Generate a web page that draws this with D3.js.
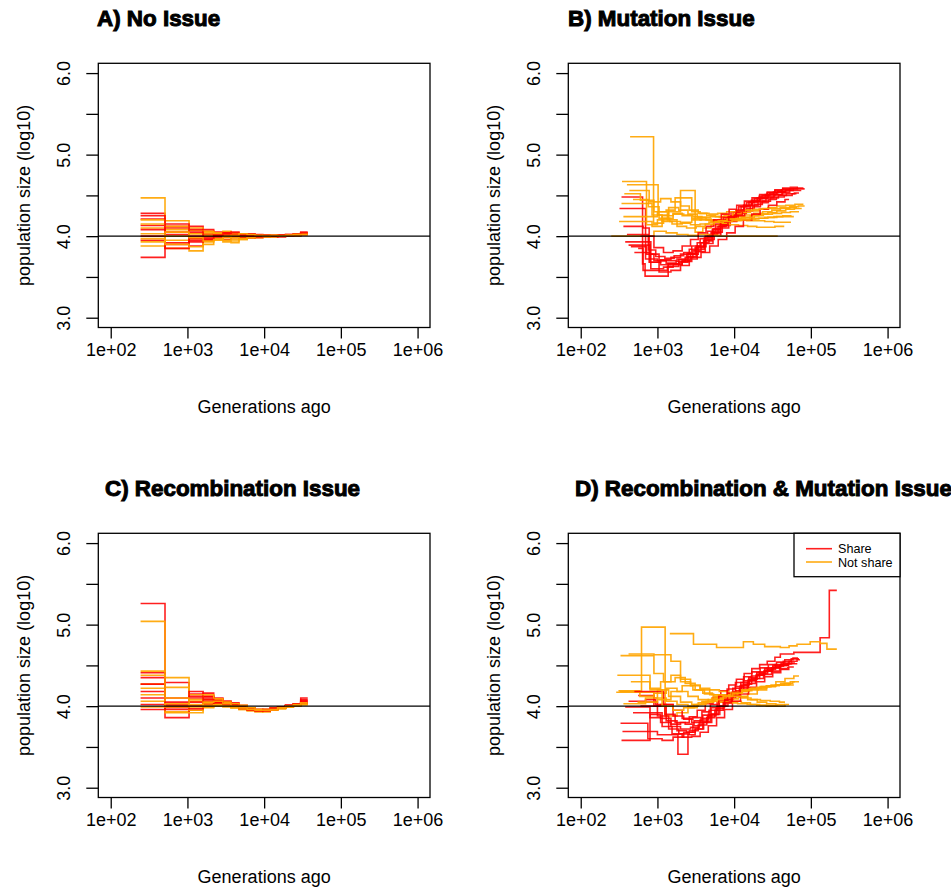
<!DOCTYPE html>
<html>
<head>
<meta charset="utf-8">
<script src="https://cdn.jsdelivr.net/npm/d3@7"></script>
<style>
  html, body { margin: 0; padding: 0; background: #fff; }
  svg { display: block; font-family: "Liberation Sans", Arial, Helvetica, sans-serif; }
</style>
</head>
<body>
<svg id="chart" width="951" height="890"></svg>
<script>
// ---- chart data -------------------------------------------------------
const panelTitles = ["A) No Issue", "B) Mutation Issue", "C) Recombination Issue", "D) Recombination & Mutation Issue"];
const xTicks = [1e2, 1e3, 1e4, 1e5, 1e6];
const xTickLabels = ["1e+02", "1e+03", "1e+04", "1e+05", "1e+06"];
const yTicks = [3, 3.5, 4, 4.5, 5, 5.5, 6];
const yTickLabels = ["3.0", "", "4.0", "", "5.0", "", "6.0"];
const xTitle = "Generations ago";
const yTitle = "population size (log10)";
const legendLabels = ["Share", "Not share"];
const refLevel = 4;

// time breakpoints (generations) shared by the replicates of panels A and C
const gridAC = [245, 510, 1050, 1600, 2200, 2900, 3700, 4700, 6000, 7600, 9600, 12000, 15000, 19000, 24000, 30000, 37000];

// A) log10 population size per interval of gridAC
const noIssueShare = [
  [4.28, 4.10, 4.12, 4.06, 4.04, 4.02, 4.03, 4.01, 4.00, 3.99, 4.00, 4.01, 4.00, 4.01, 4.02, 4.04],
  [4.21, 3.92, 3.88, 3.95, 3.97, 3.96, 3.98, 3.99, 4.00, 4.01, 4.00, 4.00, 4.01, 4.01, 4.02, 4.03],
  [4.13, 4.05, 4.00, 4.08, 4.05, 4.03, 4.02, 4.00, 3.99, 3.98, 3.99, 4.00, 4.01, 4.02, 4.03, 4.05],
  [4.00, 3.85, 3.95, 4.00, 4.03, 4.05, 4.03, 4.02, 4.01, 4.01, 4.00, 3.99, 4.00, 4.01, 4.01, 4.02],
  [3.95, 4.12, 4.08, 4.02, 3.98, 3.99, 4.01, 4.02, 4.03, 4.02, 4.01, 4.00, 4.00, 4.00, 4.01, 4.03],
  [3.74, 3.90, 3.97, 3.99, 4.02, 4.04, 4.05, 4.03, 4.02, 4.00, 3.99, 4.00, 4.01, 4.02, 4.02, 4.04],
  [4.25, 4.02, 3.93, 3.96, 4.00, 4.01, 4.00, 3.98, 3.98, 3.99, 4.00, 4.01, 4.01, 4.00, 4.01, 4.02],
  [4.08, 4.15, 4.05, 3.97, 4.01, 4.03, 4.02, 4.01, 4.00, 4.00, 4.01, 4.00, 3.99, 4.00, 4.02, 4.04]
];
const noIssueNotShare = [
  [4.47, 4.19, 4.07, 4.03, 4.01, 4.02, 4.00, 3.99, 4.00, 4.01, 4.00, 4.00, 4.01, 4.00, 4.01, 4.02],
  [4.03, 3.85, 3.82, 3.90, 3.95, 3.93, 3.92, 3.96, 3.98, 3.99, 4.00, 4.00, 4.00, 4.01, 4.01, 4.02],
  [3.88, 4.00, 4.10, 4.05, 4.02, 3.98, 3.96, 3.97, 3.99, 4.00, 4.01, 4.01, 4.00, 4.01, 4.02, 4.03],
  [4.20, 4.08, 3.97, 3.99, 4.04, 4.06, 4.04, 4.02, 4.01, 4.00, 3.99, 3.99, 4.00, 4.01, 4.01, 4.03],
  [3.97, 3.95, 4.03, 4.01, 3.97, 3.95, 3.94, 3.96, 3.98, 3.99, 4.00, 4.00, 4.01, 4.01, 4.02, 4.02],
  [4.10, 3.90, 3.87, 3.93, 4.00, 4.02, 4.01, 4.00, 3.99, 3.98, 3.99, 4.00, 4.00, 4.01, 4.01, 4.04],
  [4.15, 4.12, 4.03, 4.06, 4.03, 4.00, 3.98, 3.97, 3.98, 4.00, 4.01, 4.00, 4.00, 4.00, 4.01, 4.03],
  [3.93, 4.05, 3.98, 3.94, 3.96, 3.99, 4.01, 4.03, 4.02, 4.01, 4.00, 4.01, 4.00, 4.01, 4.02, 4.02]
];

// C) log10 population size per interval of gridAC
const recombShare = [
  [5.26, 3.98, 4.10, 4.12, 4.08, 4.05, 4.02, 3.99, 3.97, 3.95, 3.96, 3.97, 3.99, 4.01, 4.03, 4.10],
  [4.41, 4.29, 4.15, 4.16, 4.10, 4.06, 4.03, 4.00, 3.97, 3.96, 3.95, 3.97, 3.98, 4.00, 4.02, 4.06],
  [4.35, 3.86, 3.95, 4.00, 4.04, 4.06, 4.04, 4.01, 3.98, 3.96, 3.95, 3.96, 3.98, 3.99, 4.01, 4.04],
  [4.18, 4.02, 4.18, 4.12, 4.09, 4.05, 4.01, 3.98, 3.96, 3.94, 3.95, 3.96, 3.98, 4.00, 4.02, 4.05],
  [4.10, 3.96, 4.05, 4.10, 4.07, 4.03, 4.00, 3.99, 3.97, 3.96, 3.96, 3.97, 3.99, 4.00, 4.01, 4.03],
  [4.02, 4.00, 4.00, 4.02, 4.05, 4.04, 4.02, 4.00, 3.97, 3.95, 3.94, 3.96, 3.98, 4.00, 4.02, 4.08],
  [3.96, 4.05, 3.97, 4.06, 4.04, 4.02, 3.99, 3.97, 3.96, 3.95, 3.96, 3.98, 3.99, 4.01, 4.02, 4.04],
  [4.27, 4.10, 4.12, 4.08, 4.06, 4.03, 4.01, 3.98, 3.95, 3.94, 3.95, 3.97, 3.99, 4.01, 4.03, 4.07]
];
const recombNotShare = [
  [5.04, 3.93, 4.00, 4.03, 4.02, 4.01, 3.98, 3.96, 3.94, 3.93, 3.94, 3.96, 3.98, 4.00, 4.01, 4.03],
  [4.43, 4.35, 4.14, 4.08, 4.05, 4.02, 3.99, 3.97, 3.96, 3.95, 3.96, 3.97, 3.98, 4.00, 4.01, 4.02],
  [4.27, 4.23, 4.06, 4.04, 4.03, 4.00, 3.98, 3.96, 3.95, 3.94, 3.95, 3.97, 3.99, 4.00, 4.02, 4.03],
  [4.22, 3.92, 3.92, 3.98, 4.01, 4.03, 4.02, 3.99, 3.97, 3.95, 3.94, 3.95, 3.97, 3.99, 4.01, 4.02],
  [4.06, 4.00, 4.08, 4.14, 4.09, 4.05, 4.02, 3.99, 3.96, 3.94, 3.93, 3.95, 3.97, 3.99, 4.00, 4.02],
  [4.14, 3.99, 3.95, 3.99, 4.02, 4.04, 4.03, 4.01, 3.98, 3.96, 3.95, 3.96, 3.98, 4.00, 4.01, 4.03],
  [3.99, 4.03, 4.02, 4.01, 4.00, 3.99, 3.98, 3.97, 3.96, 3.96, 3.96, 3.97, 3.98, 3.99, 4.01, 4.02],
  [4.38, 4.10, 3.99, 4.05, 4.06, 4.03, 4.00, 3.98, 3.96, 3.95, 3.95, 3.96, 3.98, 4.00, 4.02, 4.04]
];

// B) [generations, log10 size] change points of each replicate
const mutationShare = [
  [[340,4.48],[640,3.66],[690,3.51],[1380,3.66],[1900,3.71],[2500,3.79],[3200,3.88],[4100,3.98],[5200,4.08],[6600,4.17],[8400,4.25],[10700,4.32],[13600,4.38],[17300,4.43],[22000,4.47],[28000,4.51],[36000,4.54],[46000,4.56],[59000,4.58],[83000,4.58]],
  [[320,4.34],[600,4.34],[700,3.72],[1000,3.70],[1300,3.67],[1750,3.69],[2300,3.74],[2900,3.82],[3700,3.92],[4700,4.02],[6000,4.12],[7600,4.21],[9700,4.29],[12300,4.36],[15600,4.42],[20000,4.47],[25500,4.51],[32500,4.54],[41500,4.57],[53000,4.58],[67000,4.59],[80000,4.59]],
  [[380,3.93],[760,3.93],[820,3.60],[1200,3.62],[1600,3.65],[2100,3.70],[2700,3.78],[3400,3.87],[4300,3.96],[5500,4.05],[7000,4.13],[8900,4.21],[11300,4.28],[14400,4.34],[18300,4.39],[23300,4.43],[29700,4.47],[37800,4.50],[48000,4.52],[61000,4.53],[70000,4.53]],
  [[420,3.89],[800,3.78],[1050,3.56],[1500,3.58],[2000,3.64],[2600,3.72],[3300,3.81],[4200,3.91],[5300,4.01],[6700,4.10],[8500,4.18],[10800,4.25],[13700,4.31],[17400,4.36],[22000,4.41],[28000,4.45],[35500,4.48],[45000,4.50],[57000,4.52],[65000,4.52]],
  [[450,3.87],[720,3.78],[900,3.70],[1300,3.70],[1800,3.72],[2400,3.78],[3100,3.86],[4000,3.95],[5000,4.04],[6300,4.12],[8000,4.19],[10100,4.26],[12800,4.32],[16200,4.38],[20500,4.43],[26000,4.47],[33000,4.51],[42000,4.54],[53000,4.56],[75000,4.56]],
  [[400,4.02],[760,3.83],[950,3.75],[1250,3.73],[1650,3.76],[2200,3.80],[2800,3.88],[3600,3.97],[4500,4.06],[5700,4.15],[7200,4.23],[9100,4.30],[11500,4.36],[14500,4.41],[18300,4.46],[23100,4.50],[29200,4.53],[37000,4.55],[47000,4.57],[56000,4.57]],
  [[500,3.80],[800,3.68],[1100,3.65],[1500,3.66],[2100,3.69],[2800,3.74],[3700,3.80],[4800,3.88],[6200,3.96],[8000,4.04],[10300,4.12],[13200,4.20],[17000,4.27],[21800,4.33],[28000,4.38],[36000,4.42],[46000,4.45],[52000,4.45]],
  [[560,3.85],[650,3.58],[950,3.58],[1350,3.63],[1900,3.68],[2500,3.75],[3200,3.84],[4100,3.94],[5200,4.04],[6600,4.14],[8300,4.23],[10500,4.31],[13300,4.38],[16800,4.44],[21200,4.49],[26800,4.53],[34000,4.56],[43000,4.58],[60000,4.58]],
  [[600,4.00],[900,3.86],[1200,3.80],[1600,3.82],[2100,3.88],[2700,3.96],[3400,4.04],[4300,4.12],[5400,4.20],[6800,4.27],[8600,4.33],[10800,4.38],[13600,4.43],[17100,4.47],[21500,4.51],[27000,4.54],[34000,4.57],[43000,4.59],[54000,4.60],[68000,4.60]],
  [[360,4.12],[650,4.10],[780,3.68],[1100,3.71],[1500,3.74],[2000,3.78],[2600,3.84],[3300,3.92],[4200,4.00],[5300,4.09],[6700,4.17],[8500,4.24],[10700,4.31],[13500,4.37],[17000,4.42],[21500,4.46],[27000,4.49],[34000,4.51],[43000,4.53],[48000,4.53]]
];
const mutationNotShare = [
  [[440,5.22],[890,4.16],[1200,4.22],[1600,4.28],[2100,4.25],[2800,4.22],[3600,4.20],[4700,4.19],[6100,4.20],[8000,4.22],[10500,4.24],[13700,4.26],[18000,4.28],[23500,4.30],[31000,4.32],[40000,4.34],[53000,4.36],[69000,4.37],[83000,4.37]],
  [[345,4.67],[720,4.14],[1000,4.20],[1400,4.35],[1900,4.32],[2500,4.27],[3300,4.23],[4300,4.20],[5600,4.18],[7300,4.19],[9500,4.21],[12400,4.23],[16200,4.25],[21000,4.27],[27500,4.29],[36000,4.31],[47000,4.33],[61000,4.34],[76000,4.34]],
  [[400,4.63],[1020,4.26],[1400,4.30],[2000,4.56],[3100,4.05],[3900,4.10],[5000,4.14],[6500,4.17],[8500,4.19],[11000,4.20],[14500,4.21],[19000,4.22],[25000,4.23],[33000,4.24],[43000,4.25],[56000,4.25]],
  [[430,4.56],[780,4.42],[1100,4.46],[1500,4.42],[2000,4.37],[2600,4.32],[3400,4.28],[4400,4.25],[5700,4.24],[7400,4.25],[9600,4.27],[12500,4.29],[16300,4.31],[21000,4.33],[27500,4.35],[36000,4.37],[47000,4.38],[62000,4.39],[80000,4.39]],
  [[340,4.40],[620,4.40],[850,4.26],[1150,4.18],[1550,4.15],[2100,4.17],[2800,4.20],[3700,4.23],[4900,4.24],[6400,4.23],[8400,4.21],[11000,4.20],[14500,4.19],[19000,4.19],[25000,4.18],[33000,4.17],[44000,4.17],[55000,4.17]],
  [[316,4.18],[640,4.18],[850,4.12],[1150,4.25],[1600,4.27],[2200,4.26],[2900,4.24],[3800,4.21],[5000,4.18],[6600,4.16],[8700,4.14],[11400,4.13],[15000,4.12],[19700,4.11],[26000,4.11],[34000,4.12],[45000,4.12]],
  [[250,4.00],[560,4.00],[900,4.06],[1300,4.04],[1800,4.02],[2500,4.01],[3400,4.02],[4600,4.01],[6200,4.00],[8400,4.00],[11300,4.00],[15200,4.00],[20500,4.00],[27500,4.00],[37000,4.00]],
  [[370,4.52],[600,4.44],[900,4.30],[1300,4.32],[1700,4.47],[2200,4.47],[2800,4.30],[3600,4.28],[4700,4.27],[6100,4.28],[8000,4.30],[10500,4.31],[13800,4.32],[18000,4.33],[23500,4.34],[31000,4.34],[40000,4.35],[52000,4.35],[66000,4.35]],
  [[480,4.45],[760,4.36],[1050,4.22],[1450,4.18],[2000,4.16],[2700,4.14],[3600,4.15],[4700,4.17],[6200,4.19],[8100,4.21],[10600,4.22],[14000,4.23],[18300,4.25],[24000,4.27],[31500,4.28],[41500,4.29],[54000,4.30],[70000,4.30]],
  [[360,4.24],[700,4.24],[1000,4.30],[1350,4.20],[1800,4.12],[2400,4.10],[3200,4.12],[4200,4.15],[5500,4.17],[7200,4.18],[9400,4.19],[12300,4.20],[16000,4.21],[21000,4.22],[27500,4.23],[36000,4.24],[47000,4.24],[60000,4.24]]
];

// D) [generations, log10 size] change points of each replicate
const bothShare = [
  [[380,3.99],[650,3.99],[800,3.86],[1100,3.80],[1500,3.78],[2000,3.80],[2600,3.87],[3300,3.95],[4200,4.03],[5300,4.11],[6700,4.19],[8500,4.26],[10700,4.33],[13500,4.40],[17000,4.46],[21500,4.51],[27000,4.55],[34000,4.60],[40000,4.64],[60000,4.66],[85000,4.66],[132000,4.84],[174000,5.42],[218000,5.42]],
  [[330,3.79],[640,3.79],[750,3.60],[1150,3.58],[1600,3.62],[2200,3.68],[2900,3.76],[3700,3.85],[4700,3.95],[6000,4.05],[7600,4.14],[9600,4.22],[12200,4.29],[15500,4.35],[19700,4.41],[25000,4.46],[32000,4.50],[41000,4.53],[52000,4.55],[66000,4.57],[72000,4.57]],
  [[350,3.69],[620,3.69],[1000,3.65],[1850,3.41],[2500,3.65],[3100,3.72],[3900,3.81],[4900,3.90],[6200,4.00],[7800,4.09],[9800,4.18],[12400,4.26],[15700,4.33],[19900,4.39],[25200,4.44],[32000,4.48],[40500,4.51],[51000,4.53],[62000,4.53]],
  [[340,3.58],[640,3.58],[800,3.90],[1100,3.85],[1500,3.75],[2000,3.72],[2700,3.74],[3500,3.80],[4500,3.88],[5800,3.97],[7400,4.06],[9400,4.15],[12000,4.23],[15300,4.31],[19500,4.38],[24800,4.43],[31500,4.47],[40000,4.50],[51000,4.52],[65000,4.53]],
  [[420,4.06],[700,4.08],[950,4.02],[1300,3.82],[1800,3.70],[2400,3.68],[3100,3.72],[4000,3.80],[5100,3.90],[6500,4.00],[8300,4.10],[10500,4.19],[13300,4.27],[16900,4.34],[21500,4.40],[27300,4.45],[34600,4.49],[44000,4.52],[56000,4.54]],
  [[480,3.92],[850,3.92],[1150,3.75],[1550,3.66],[2100,3.62],[2800,3.63],[3600,3.68],[4600,3.76],[5900,3.86],[7500,3.96],[9500,4.06],[12100,4.15],[15400,4.23],[19600,4.30],[25000,4.36],[31800,4.41],[40500,4.45],[51500,4.48],[60000,4.48]],
  [[560,4.13],[900,4.00],[1250,3.90],[1700,3.80],[2300,3.78],[3000,3.82],[3900,3.89],[5000,3.98],[6400,4.07],[8200,4.16],[10400,4.24],[13200,4.31],[16800,4.37],[21300,4.42],[27100,4.47],[34400,4.51],[43700,4.55],[55500,4.58],[70000,4.58]],
  [[700,4.05],[1000,3.88],[1400,3.72],[1900,3.66],[2600,3.70],[3400,3.77],[4400,3.86],[5600,3.95],[7200,4.04],[9200,4.13],[11700,4.21],[14900,4.28],[19000,4.34],[24200,4.39],[30800,4.43],[39200,4.46],[50000,4.48]],
  [[500,4.18],[900,4.18],[1200,4.02],[1600,3.88],[2200,3.84],[2900,3.86],[3800,3.93],[4900,4.02],[6300,4.12],[8100,4.21],[10400,4.29],[13300,4.36],[17000,4.42],[21800,4.47],[27900,4.51],[35700,4.54],[45700,4.57],[58500,4.59],[68000,4.59]],
  [[600,4.00],[1100,4.02],[1600,3.95],[2100,3.85],[2800,3.80],[3600,3.83],[4600,3.90],[5900,3.99],[7500,4.08],[9500,4.17],[12000,4.25],[15200,4.32],[19300,4.38],[24500,4.43],[31000,4.47],[39300,4.50],[50000,4.52],[56000,4.52]]
];
const bothNotShare = [
  [[320,4.18],[620,4.97],[1260,3.88],[1800,3.92],[2500,3.98],[3300,4.02],[4300,4.06],[5600,4.10],[7200,4.14],[9400,4.16],[12200,4.18],[15800,4.20],[20500,4.22],[26500,4.24],[34500,4.26],[45000,4.28],[58000,4.30],[70000,4.30]],
  [[1450,4.89],[2950,4.76],[5900,4.72],[13200,4.79],[17800,4.76],[25000,4.73],[40000,4.72],[52000,4.74],[66000,4.76],[98000,4.79],[132000,4.77],[162000,4.70],[218000,4.70]],
  [[330,4.62],[680,4.62],[900,4.40],[1200,4.30],[1700,4.35],[2300,4.28],[3100,4.20],[4100,4.15],[5400,4.12],[7100,4.08],[9400,4.06],[12400,4.04],[16300,4.02],[21500,4.01],[28000,4.01],[37000,4.01]],
  [[420,4.64],[900,4.63],[1500,4.55],[2000,4.30],[2700,4.25],[3600,4.22],[4800,4.20],[6400,4.18],[8500,4.15],[11300,4.12],[15000,4.08],[20000,4.05],[26500,4.03],[35000,4.02],[46000,4.02]],
  [[300,4.38],[600,4.38],[800,4.22],[1100,4.30],[1500,4.38],[2000,4.33],[2700,4.26],[3600,4.20],[4800,4.14],[6400,4.10],[8500,4.09],[11300,4.11],[15000,4.15],[20000,4.20],[26500,4.25],[35000,4.30],[46000,4.34],[60000,4.37],[70000,4.37]],
  [[290,4.17],[640,4.17],[900,4.10],[1300,4.06],[1800,4.02],[2500,4.00],[3400,4.04],[4600,4.08],[6200,4.12],[8300,4.15],[11100,4.18],[14800,4.21],[19700,4.23],[26300,4.25],[35000,4.26],[46700,4.26],[60000,4.26]],
  [[310,4.19],[590,4.12],[900,4.16],[1300,4.22],[1800,4.18],[2500,4.12],[3400,4.08],[4600,4.06],[6200,4.05],[8300,4.04],[11100,4.03],[14800,4.02],[19700,4.01],[26300,4.00],[35000,4.00],[46000,4.02],[52000,4.02]],
  [[360,4.03],[700,4.10],[1000,4.20],[1400,4.12],[2000,4.05],[2800,4.02],[3800,4.06],[5100,4.10],[6800,4.14],[9100,4.17],[12200,4.20],[16300,4.22],[21800,4.24],[29000,4.25],[38700,4.26],[51700,4.27],[55000,4.27]],
  [[550,4.05],[1000,4.08],[1500,4.18],[2100,4.25],[2900,4.20],[3900,4.16],[5200,4.14],[7000,4.13],[9300,4.12],[12400,4.10],[16600,4.08],[22000,4.07],[29500,4.06],[39000,4.05],[46000,4.05]],
  [[450,4.30],[800,4.20],[1150,4.00],[1600,3.95],[2200,3.98],[3000,4.02],[4000,4.05],[5400,4.08],[7200,4.12],[9600,4.16],[12800,4.19],[17000,4.22],[22700,4.24],[30300,4.26],[40400,4.28],[54000,4.30],[62000,4.30]]
];

// ---- drawing ----------------------------------------------------------
const shareColor = "rgba(255,0,0,0.88)";
const notShareColor = "rgba(255,165,0,0.92)";
const lineColors = [shareColor, notShareColor];

// attach each interval value to the start of its interval; close with the last time
const onGrid = vals => vals.map((v, i) => [gridAC[i], v]).concat([[gridAC[vals.length], vals[vals.length - 1]]]);

const panels = [
  { title: panelTitles[0], col: 0, row: 0, titleX: 97,  groups: [noIssueShare.map(onGrid), noIssueNotShare.map(onGrid)] },
  { title: panelTitles[1], col: 1, row: 0, titleX: 568, groups: [mutationShare, mutationNotShare] },
  { title: panelTitles[2], col: 0, row: 1, titleX: 105, groups: [recombShare.map(onGrid), recombNotShare.map(onGrid)] },
  { title: panelTitles[3], col: 1, row: 1, titleX: 575, groups: [bothShare, bothNotShare], legend: true }
];

const svg = d3.select("#chart");
const box = { left: 98.3, right: 430, top: 63.3, bottom: 327.5 };
const step = 470;

const x = d3.scaleLog().domain([Math.pow(10, 1.838), Math.pow(10, 6.162)]).range([box.left, box.right]);
const y = d3.scaleLinear().domain([2.88, 6.12]).range([box.bottom, box.top]);
const line = d3.line().x(d => x(d[0])).y(d => y(d[1])).curve(d3.curveStepAfter);

panels.forEach((p, k) => {
  const g = svg.append("g").attr("transform", `translate(${p.col * step},${p.row * step})`);
  const clipId = "clip" + k;
  g.append("clipPath").attr("id", clipId)
    .append("rect").attr("x", box.left).attr("y", box.top)
    .attr("width", box.right - box.left).attr("height", box.bottom - box.top);

  // replicate trajectories, alternating the two groups
  const data = g.append("g").attr("clip-path", `url(#${clipId})`);
  const n = d3.max(p.groups, s => s.length);
  for (let i = 0; i < n; i++) {
    p.groups.forEach((series, gi) => {
      if (!series[i]) return;
      data.append("path").attr("d", line(series[i]))
        .attr("fill", "none").attr("stroke", lineColors[gi]).attr("stroke-width", 1.6);
    });
  }

  // reference level
  g.append("line").attr("x1", box.left).attr("x2", box.right)
    .attr("y1", y(refLevel)).attr("y2", y(refLevel))
    .attr("stroke", "#000").attr("stroke-width", 1.3);

  // frame
  g.append("rect").attr("x", box.left).attr("y", box.top)
    .attr("width", box.right - box.left).attr("height", box.bottom - box.top)
    .attr("fill", "none").attr("stroke", "#000").attr("stroke-width", 1.3);

  // x axis
  const xa = g.append("g").attr("transform", `translate(0,${box.bottom})`)
    .call(d3.axisBottom(x).tickValues(xTicks).tickSize(11).tickSizeOuter(0)
      .tickFormat((d, i) => xTickLabels[i]));
  xa.select(".domain").remove();
  xa.selectAll(".tick line").attr("stroke", "#000").attr("stroke-width", 1.3);
  xa.selectAll(".tick text").attr("y", 28).attr("dy", null).attr("font-size", 18)
    .attr("font-family", "Liberation Sans, Arial, sans-serif").attr("fill", "#000");

  // y axis
  const ya = g.append("g").attr("transform", `translate(${box.left},0)`)
    .call(d3.axisLeft(y).tickValues(yTicks).tickSize(12).tickSizeOuter(0)
      .tickFormat((d, i) => yTickLabels[i]));
  ya.select(".domain").remove();
  ya.selectAll(".tick line").attr("stroke", "#000").attr("stroke-width", 1.3);
  ya.selectAll(".tick text").attr("x", null).attr("dy", null)
    .attr("transform", "translate(-28,0) rotate(-90)")
    .attr("text-anchor", "middle").attr("font-size", 18)
    .attr("font-family", "Liberation Sans, Arial, sans-serif").attr("fill", "#000");

  // axis titles
  g.append("text").attr("x", (box.left + box.right) / 2).attr("y", 413)
    .attr("text-anchor", "middle").attr("font-size", 18).text(xTitle);
  g.append("text").attr("transform", `translate(29.5,${(box.top + box.bottom) / 2}) rotate(-90)`)
    .attr("text-anchor", "middle").attr("font-size", 18).text(yTitle);

  // panel title
  g.append("text").attr("x", p.titleX - p.col * step).attr("y", 25.5)
    .attr("font-size", 22.4).attr("font-weight", "bold")
    .attr("stroke", "#000").attr("stroke-width", 1).attr("fill", "#000")
    .text(p.title);

  // legend
  if (p.legend) {
    const lg = g.append("g");
    lg.append("rect").attr("x", 794 - step).attr("y", box.top)
      .attr("width", box.right - (794 - step)).attr("height", 43.4)
      .attr("fill", "#fff").attr("stroke", "#000").attr("stroke-width", 1.3);
    legendLabels.forEach((lab, i) => {
      const ly = box.top + 15.4 + i * 13.3;
      lg.append("line").attr("x1", 806 - step).attr("x2", 832 - step)
        .attr("y1", ly).attr("y2", ly).attr("stroke", lineColors[i]).attr("stroke-width", 1.6);
      lg.append("text").attr("x", 838 - step).attr("y", ly + 4.5)
        .attr("font-size", 12.6).text(lab);
    });
  }
});
</script>
</body>
</html>
